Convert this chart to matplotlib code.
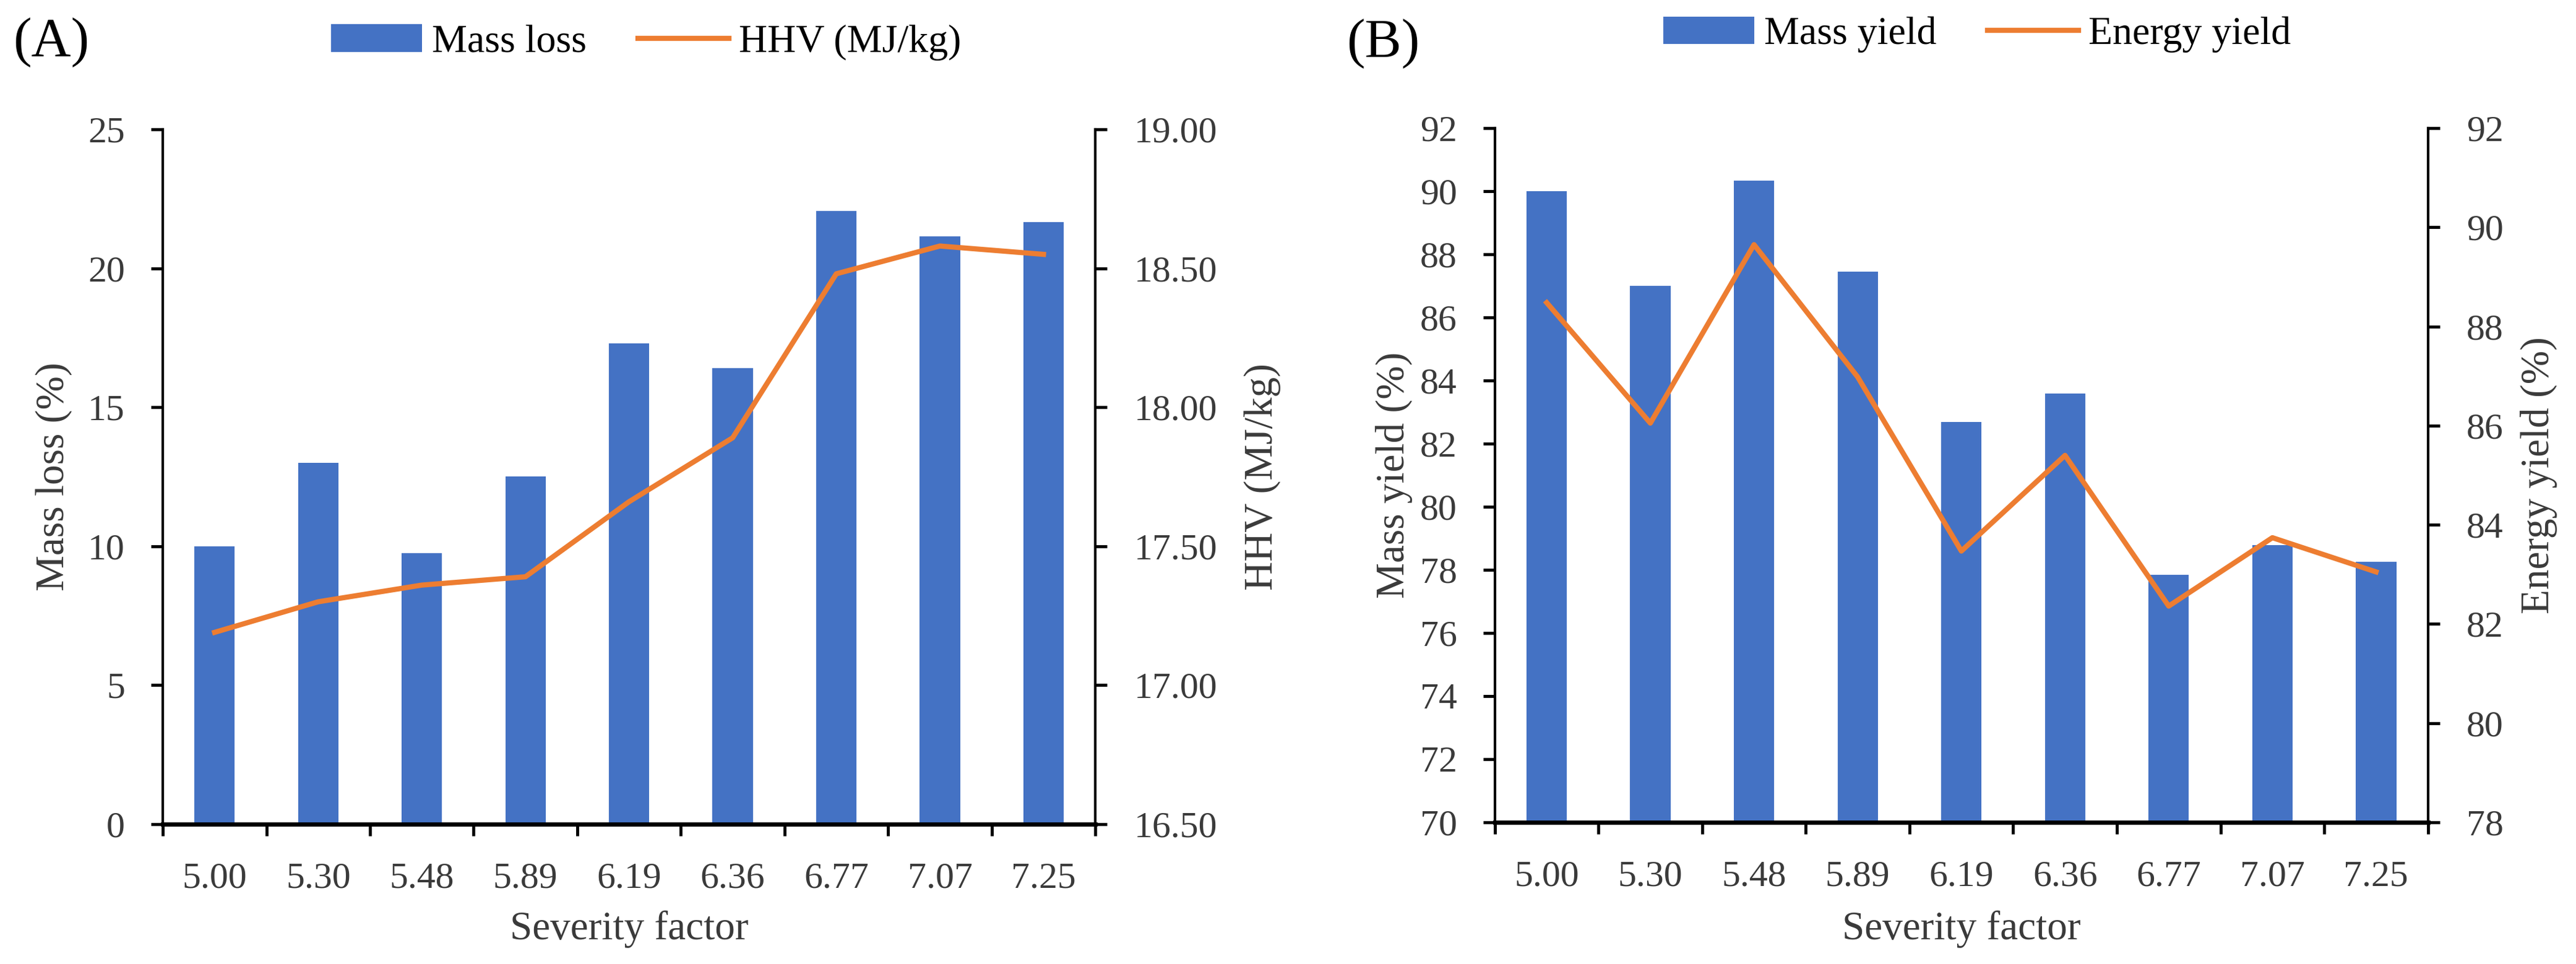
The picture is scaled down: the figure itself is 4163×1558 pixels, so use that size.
import matplotlib
matplotlib.use("Agg")
import matplotlib.pyplot as plt
import numpy as np

plt.rcParams['font.family'] = ['Liberation Serif', 'DejaVu Serif']

# datos
severidad = ["5.00", "5.30", "5.48", "5.89", "6.19", "6.36", "6.77", "7.07", "7.25"]
perdida_masa = [10.0, 13.0, 9.75, 12.5, 17.3, 16.4, 22.05, 21.15, 21.65]
hhv = [17.19, 17.30, 17.36, 17.39, 17.66, 17.89, 18.48, 18.58, 18.55]
rendimiento_masa = [90.0, 87.0, 90.33, 87.45, 82.68, 83.58, 77.85, 78.78, 78.25]
rendimiento_energia = [88.48, 86.05, 89.65, 86.98, 83.47, 85.40, 82.36, 83.74, 83.05]

AZUL = "#4472C4"
NARANJA = "#ED7D31"
GRIS = "#3a3a3a"
FS_TICK = 43
FS_LAB = 47

fig = plt.figure(figsize=(41.63, 15.58), dpi=100)


def panel(pos, barras, linea, ylim1, yt1, ylim2, yt2, fmt2, lab1, lab2, nom1, nom2, xl1, xl2):
    ax = fig.add_axes(pos)
    x = np.arange(len(severidad))
    ax.bar(x, barras, width=0.39, color=AZUL, label=nom1, zorder=2)
    ax.set_xlim(-0.5, len(severidad) - 0.5)
    ax.set_ylim(*ylim1)
    ax.set_yticks(yt1)
    ax.set_yticklabels([str(v) for v in yt1], fontsize=FS_TICK, color=GRIS)
    # ticks de x en los limites de categoria (estilo excel)
    ax.set_xticks(np.arange(-0.5, len(severidad)), labels=[""] * (len(severidad) + 1))
    ax.set_xticks(x, labels=severidad, minor=True)
    ax.tick_params(axis='x', which='major', length=14, width=3.5, direction='out')
    ax.tick_params(axis='x', which='minor', length=0, pad=44, labelsize=FS_TICK,
                   labelcolor=GRIS)
    ax.tick_params(axis='y', length=14, width=3.5, direction='out', pad=30)
    ax.spines['top'].set_visible(False)
    ax.spines['right'].set_visible(False)
    ax.spines['bottom'].set_linewidth(5)
    ax.spines['left'].set_linewidth(3)

    ax2 = ax.twinx()
    ax2.plot(x, linea, color=NARANJA, lw=6, label=nom2, zorder=3)
    ax2.set_ylim(*ylim2)
    ax2.set_yticks(yt2)
    ax2.set_yticklabels([fmt2.format(v) for v in yt2], fontsize=FS_TICK, color=GRIS)
    ax2.tick_params(axis='y', length=14, width=3.5, direction='out', pad=31)
    ax2.spines['top'].set_visible(False)
    ax2.spines['left'].set_visible(False)
    ax2.spines['bottom'].set_visible(False)
    ax2.spines['right'].set_linewidth(3)

    yc = pos[1] + pos[3] / 2
    fig.text(xl1, yc, lab1, rotation=90, ha='center', va='center', fontsize=FS_LAB, color=GRIS)
    fig.text(xl2, yc, lab2, rotation=90, ha='center', va='center', fontsize=FS_LAB, color=GRIS)
    fig.text(pos[0] + pos[2] / 2, 0.036, "Severity factor", ha='center', va='center',
             fontsize=FS_LAB, color=GRIS)
    return ax, ax2


axA, axA2 = panel([0.0632, 0.1451, 0.3620, 0.7208], perdida_masa, hhv,
                  (0, 25), [0, 5, 10, 15, 20, 25],
                  (16.5, 19.0), [16.5, 17.0, 17.5, 18.0, 18.5, 19.0], "{:.2f}",
                  "Mass loss (%)", "HHV (MJ/kg)", "Mass loss", "HHV (MJ/kg)",
                  0.0209, 0.490)

axB, axB2 = panel([0.5803, 0.1470, 0.3622, 0.7201], rendimiento_masa, rendimiento_energia,
                  (70, 92), list(range(70, 93, 2)),
                  (78, 92), list(range(78, 93, 2)), "{:d}",
                  "Mass yield (%)", "Energy yield (%)", "Mass yield", "Energy yield",
                  0.5412, 0.9856)

for ax, ax2, cx, cy in [(axA, axA2, 0.2508, 0.956), (axB, axB2, 0.7675, 0.964)]:
    h1, l1 = ax.get_legend_handles_labels()
    h2, l2 = ax2.get_legend_handles_labels()
    fig.legend(h1 + h2, l1 + l2, loc='center', bbox_to_anchor=(cx, cy), ncol=2,
               frameon=False, fontsize=46, handlelength=2.3, columnspacing=1.3,
               handletextpad=0.25, borderpad=0.1)

fig.text(0.005, 0.956, "(A)", fontsize=64, va='center', ha='left')
fig.text(0.5227, 0.955, "(B)", fontsize=64, va='center', ha='left')

fig.savefig("out.png", dpi=100)
